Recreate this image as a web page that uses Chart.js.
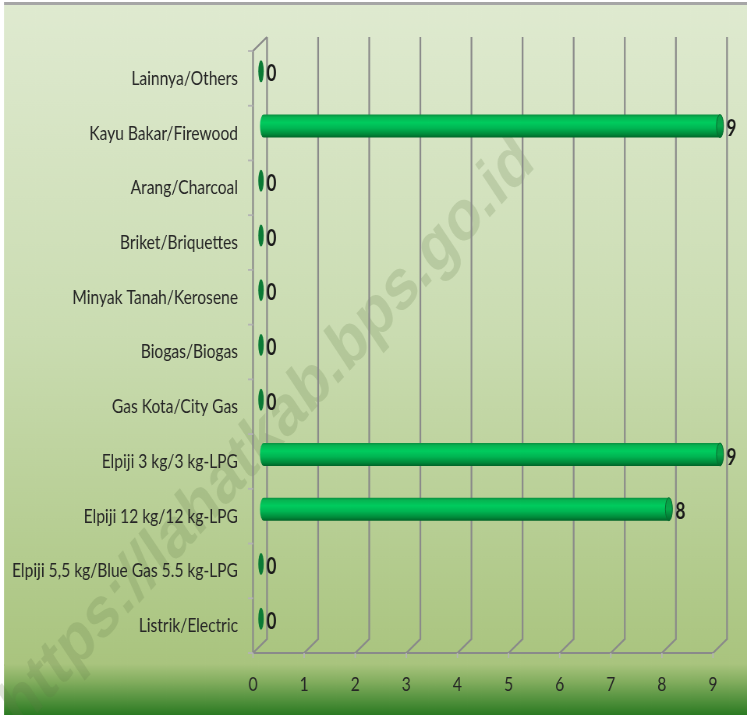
<!DOCTYPE html>
<html>
<head>
<meta charset="utf-8">
<script src="https://cdn.jsdelivr.net/npm/chart.js@4/dist/chart.umd.min.js"></script>
<style>
  html, body { margin: 0; padding: 0; background: #fff; overflow: hidden; }
  /* teks di gambar asli lebih sempit, jadi kanvas dipadatkan ke samping */
  #wrap { width: 958px; height: 715px; transform: scaleX(0.77975); transform-origin: 0 0; }
</style>
</head>
<body>
<div id="wrap"><canvas id="grafico"></canvas></div>
<script>
// kategori bahan bakar, dari atas ke bawah
const kategori = [
  'Lainnya/Others',
  'Kayu Bakar/Firewood',
  'Arang/Charcoal',
  'Briket/Briquettes',
  'Minyak Tanah/Kerosene',
  'Biogas/Biogas',
  'Gas Kota/City Gas',
  'Elpiji 3 kg/3 kg-LPG',
  'Elpiji 12 kg/12 kg-LPG',
  'Elpiji 5,5 kg/Blue Gas 5.5 kg-LPG',
  'Listrik/Electric'
];
const jumlah = [0, 9, 0, 0, 0, 0, 0, 9, 8, 0, 0];
const tickX = [0, 1, 2, 3, 4, 5, 6, 7, 8, 9];

const FONT = "'Lato', sans-serif";
const S = 747 / 958;     // faktor pemadatan horizontal
const DX = 7 / S;        // kedalaman 3D (arah x, satuan kanvas)
const DY = 7;            // kedalaman 3D (arah y)

// latar belakang + watermark
const latar = {
  id: 'latar',
  beforeDraw(chart) {
    const c = chart.ctx;
    const w = chart.width, h = chart.height;
    const x4 = 4 / S;
    c.save();
    c.fillStyle = '#ffffff';
    c.fillRect(0, 0, w, h);
    let g = c.createLinearGradient(0, 5, 0, 666);
    g.addColorStop(0, '#dfead0');
    g.addColorStop(0.5, '#cadcb1');
    g.addColorStop(1, '#a9c47e');
    c.fillStyle = g;
    c.fillRect(x4, 5, w - x4, 661);
    g = c.createLinearGradient(0, 664, 0, h);
    g.addColorStop(0, '#a9c47e');
    g.addColorStop(0.35, '#82ad5e');
    g.addColorStop(1, '#2b7a22');
    c.fillStyle = g;
    c.fillRect(x4, 664, w - x4, h - 664);
    c.fillStyle = '#a6a6a6';
    c.fillRect(x4, 2, w - x4, 3);

    // watermark
    c.translate(268 / S, 434);
    c.rotate(-40.5 * Math.PI / 180);
    c.font = "bold 72px 'Liberation Sans', Arial, sans-serif";
    c.fillStyle = 'rgba(95, 120, 70, 0.2)';
    c.textAlign = 'center';
    c.textBaseline = 'middle';
    c.fillText('https://lahatkab.bps.go.id', 0, 0);
    c.restore();
  }
};

// dinding 3D dan garis grid
const dinding = {
  id: 'dinding',
  beforeDatasetsDraw(chart) {
    const c = chart.ctx;
    const sx = chart.scales.x, sy = chart.scales.y;
    const top = chart.chartArea.top, bottom = chart.chartArea.bottom;
    c.save();
    c.strokeStyle = '#8a8a8a';
    c.lineWidth = 2.2;
    // garis vertikal belakang + diagonal lantai
    tickX.forEach(v => {
      const px = sx.getPixelForValue(v);
      c.beginPath();
      c.moveTo(px + DX, top - DY);
      c.lineTo(px + DX, bottom - DY);
      c.lineTo(px - DX, bottom + DY);
      c.stroke();
    });
    // lantai depan
    const x0 = sx.getPixelForValue(0) - DX;
    const x9 = sx.getPixelForValue(9) - DX;
    c.beginPath();
    c.moveTo(x0, bottom + DY);
    c.lineTo(x9, bottom + DY);
    c.stroke();
    // dinding kiri depan
    c.beginPath();
    c.moveTo(x0, bottom + DY);
    c.lineTo(x0, top + DY);
    c.lineTo(x0 + 2 * DX, top - DY);
    c.stroke();
    // tanda tick kecil
    c.strokeStyle = '#b4b4b4';
    c.lineWidth = 1.8;
    tickX.forEach(v => {
      const fx = sx.getPixelForValue(v) - DX;
      c.beginPath();
      c.moveTo(fx, bottom + DY);
      c.lineTo(fx, bottom + DY + 5);
      c.stroke();
    });
    const step = sy.getPixelForValue(1) - sy.getPixelForValue(0);
    for (let i = 0; i <= kategori.length; i++) {
      const y = sy.getPixelForValue(0) - step / 2 + i * step + DY;
      c.beginPath();
      c.moveTo(x0 - 5 / S, y);
      c.lineTo(x0, y);
      c.stroke();
    }
    c.restore();
  }
};

// batang silinder
const silinder = {
  id: 'silinder',
  afterDatasetsDraw(chart) {
    const c = chart.ctx;
    const meta = chart.getDatasetMeta(0);
    c.save();
    meta.data.forEach((bar, i) => {
      const p = bar.getProps(['x', 'y', 'base', 'height'], true);
      const h = p.height;
      const y0 = p.y - h / 2;
      const rx = 3.5 / S;
      if (jumlah[i] === 0) {
        c.fillStyle = '#0b7a35';
        c.beginPath();
        c.ellipse(p.base + 1 / S, p.y, 2.7 / S, h / 2 - 0.5, 0, 0, Math.PI * 2);
        c.fill();
        return;
      }
      const g = c.createLinearGradient(0, y0, 0, y0 + h);
      g.addColorStop(0, '#0a8f40');
      g.addColorStop(0.12, '#06b552');
      g.addColorStop(0.35, '#00cc5e');
      g.addColorStop(0.6, '#00b452');
      g.addColorStop(0.85, '#008a3a');
      g.addColorStop(1, '#006428');
      c.fillStyle = g;
      c.beginPath();
      c.moveTo(p.base + rx, y0);
      c.lineTo(p.x, y0);
      c.ellipse(p.x, p.y, rx, h / 2, 0, -Math.PI / 2, Math.PI / 2);
      c.lineTo(p.base + rx, y0 + h);
      c.ellipse(p.base + rx, p.y, rx, h / 2, 0, Math.PI / 2, Math.PI * 1.5);
      c.closePath();
      c.fill();
      // tutup ujung
      const g2 = c.createLinearGradient(0, y0, 0, y0 + h);
      g2.addColorStop(0, '#0a9a45');
      g2.addColorStop(0.5, '#07a84a');
      g2.addColorStop(1, '#006a2c');
      c.fillStyle = g2;
      c.strokeStyle = '#0a6b30';
      c.lineWidth = 1;
      c.beginPath();
      c.ellipse(p.x, p.y, rx, h / 2, 0, 0, Math.PI * 2);
      c.fill();
      c.stroke();
    });
    // label nilai
    c.fillStyle = '#1a1a1a';
    c.font = 'bold 22px ' + FONT;
    c.textAlign = 'left';
    c.textBaseline = 'middle';
    meta.data.forEach((bar, i) => {
      const p = bar.getProps(['x', 'y'], true);
      c.fillText(String(jumlah[i]), p.x + 6.5 / S, p.y + 3);
    });
    c.restore();
  }
};

new Chart(document.getElementById('grafico'), {
  type: 'bar',
  data: {
    labels: kategori,
    datasets: [{
      data: jumlah,
      backgroundColor: 'rgba(0,0,0,0)',
      borderWidth: 0,
      barThickness: 23
    }]
  },
  options: {
    indexAxis: 'y',
    responsive: true,
    maintainAspectRatio: false,
    animation: false,
    layout: { padding: { top: 44, right: 27 / S, left: 0, bottom: 0 } },
    plugins: {
      legend: { display: false },
      tooltip: { enabled: false }
    },
    scales: {
      x: {
        min: 0,
        max: 9,
        afterFit(scale) {
          scale.height = 69;
          scale.paddingLeft = 0;
          scale.paddingRight = 0;
        },
        grid: { display: false, drawTicks: false },
        border: { display: false },
        ticks: {
          stepSize: 1,
          padding: 27,
          labelOffset: -DX,
          color: '#262626',
          font: { family: FONT, size: 20 }
        }
      },
      y: {
        afterFit(scale) {
          scale.width = 260 / S;
          scale.paddingTop = 0;
          scale.paddingBottom = 0;
        },
        grid: { display: false, drawTicks: false },
        border: { display: false },
        ticks: {
          padding: 22 / S,
          labelOffset: DY,
          color: '#262626',
          autoSkip: false,
          font: { family: FONT, size: 20 }
        }
      }
    }
  },
  plugins: [latar, dinding, silinder]
});
</script>
</body>
</html>
